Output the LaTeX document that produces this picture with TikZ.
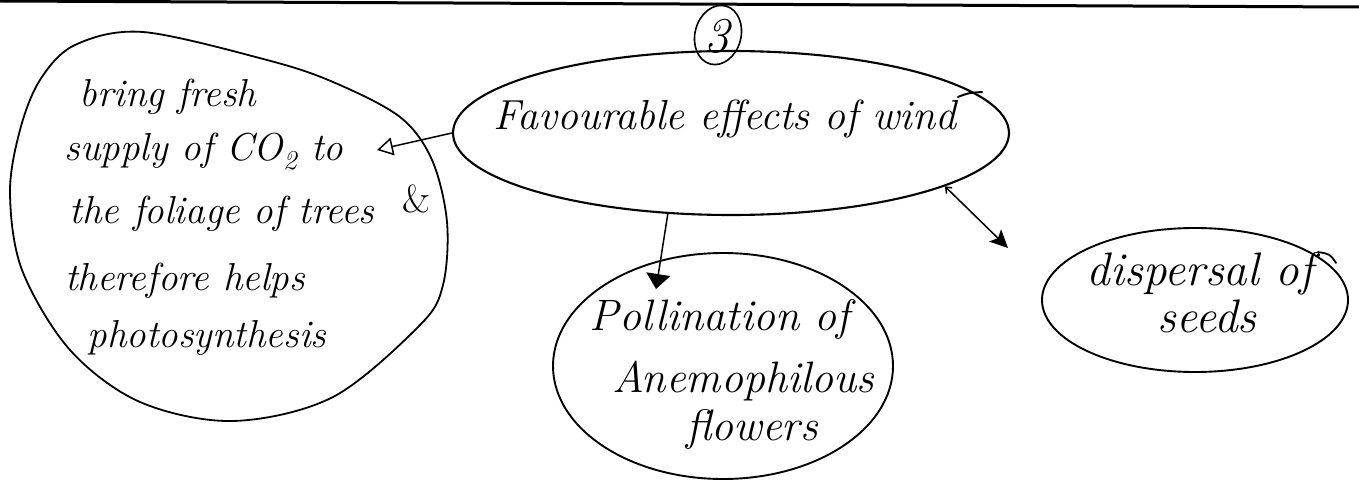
\documentclass[tikz,border=0pt]{standalone}
\usetikzlibrary{arrows.meta,shapes.geometric}
\begin{document}
\begin{tikzpicture}[x=1pt,y=-1pt,line join=round,line cap=round,
  bubble/.style={draw,ellipse,line width=1.9pt,inner sep=0pt},
  outline/.style={line width=1.8pt},
  conn/.style={line width=1.5pt},
  hwA/.style={font=\fontsize{39}{46}\selectfont\itshape,inner sep=0pt,anchor=base},
  hwB/.style={font=\fontsize{42}{50}\selectfont\itshape,inner sep=0pt,anchor=base},
  hwC/.style={font=\fontsize{44}{52}\selectfont\itshape,inner sep=0pt,anchor=base},
  hwD/.style={font=\fontsize{47}{56}\selectfont\itshape,inner sep=0pt,anchor=base}]
\useasboundingbox (0,0) rectangle (1359,484);
% top rule of the page
\draw[line width=3pt,line cap=butt] (0,1) -- (1359,7);
% circled number
\node[bubble,line width=1.6pt,minimum width=46pt,minimum height=60pt,rotate=-15] (num) at (718,35) {};
\node[font=\fontsize{50}{56}\selectfont\itshape,inner sep=0pt] (numtxt) at (717,36) {3};
% main ellipse
\node[bubble,line width=2.1pt,minimum width=556pt,minimum height=164pt] (main) at (731,133) {};
\node[hwB] (maintxt) at (725,130) {Favourable effects of wind};
\draw[line width=2pt] (958,97) .. controls (968,93) .. (982,92);
% left blob
\draw[outline] plot[smooth cycle,tension=0.55] coordinates {(143,32) (267,60) (333,82) (400,117) (432,160) (447,222) (443,285) (420,325) (333,397) (233,421) (140,402) (70,350) (22,270) (10,193) (20,130) (40,80) (75,45)};
\node[hwA] (l1) at (168,107) {bring fresh};
\node[hwA] (l2) at (204,160) {supply of CO\textsubscript{2} to};
\node[hwA] (l3) at (222,223) {the foliage of trees};
\node[hwA] (amp) at (417,212) {\textup{\&}};
\node[hwA] (l4) at (185,290) {therefore helps};
\node[hwA] (l5) at (207,347) {photosynthesis};
% pollination ellipse
\node[bubble,minimum width=340pt,minimum height=226pt] (pol) at (723,366) {};
\node[hwC] (p1) at (720,330) {Pollination of};
\node[hwC] (p2) at (743,392) {Anemophilous};
\node[hwC] (p3) at (752,440) {flowers};
% dispersal ellipse
\node[bubble,minimum width=306pt,minimum height=144pt] (dis) at (1195,300) {};
\node[hwD] (d1) at (1200,285) {dispersal of};
\node[hwD] (d2) at (1207,332) {seeds};
\draw[line width=1.8pt] (1318,252) .. controls (1330,254) .. (1336,263);
% connectors
\coordinate (tipL) at (377,150);
\coordinate (tipP) at (656,289);
\coordinate (tipD) at (1008,248);
\draw[conn,-{Triangle[open,length=16pt,width=18pt]}] (main.west) -- (tipL);
\draw[conn,-{Triangle[length=15pt,width=24pt]}] (main.-128) -- (tipP);
\draw[conn,{Straight Barb[length=5pt,width=8pt]}-{Stealth[length=18pt,width=17pt,inset=4pt]}] (main.-14) -- (tipD);
\end{tikzpicture}
\end{document}
